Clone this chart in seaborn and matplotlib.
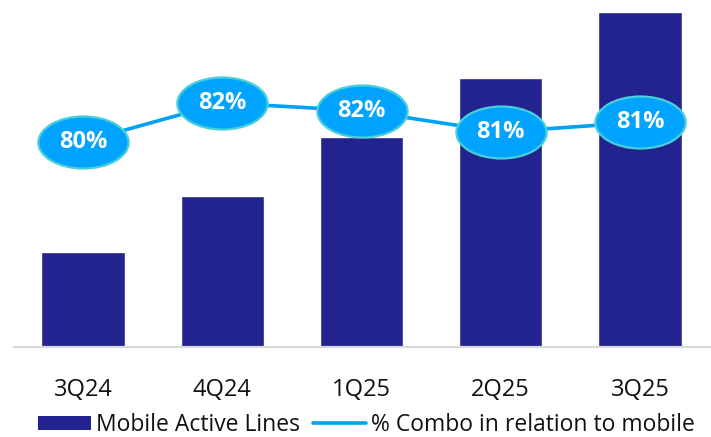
import numpy as np
import pandas as pd
import matplotlib
matplotlib.use("Agg")
import matplotlib.pyplot as plt
from matplotlib.markers import MarkerStyle
from matplotlib.transforms import Affine2D
from matplotlib.patches import Patch
from matplotlib.lines import Line2D
import seaborn as sns

# Quarterly figures
quarters = ["3Q24", "4Q24", "1Q25", "2Q25", "3Q25"]
mobile_active_lines = [94.7, 151.0, 209.7, 269.3, 334.7]
combo_share_pct = [80.2, 82.2, 81.8, 80.7, 81.2]

series_labels = ["Mobile Active Lines", "% Combo in relation to mobile"]

NAVY = "#23238F"
LINE_BLUE = "#00A2F5"
BUBBLE_FILL = "#00A3FF"
BUBBLE_EDGE = "#48CFD8"
AXIS_GREY = "#D9D9D9"

sns.set_theme(style="white")
plt.rcParams["font.family"] = ["Open Sans", "DejaVu Sans"]

W, H = 711, 437
fig = plt.figure(figsize=(W / 100, H / 100), dpi=100)
ax = fig.add_axes([13.5 / W, (H - 347) / H, 696 / W, 347 / H])

df = pd.DataFrame({"quarter": quarters, "lines": mobile_active_lines})
sns.barplot(data=df, x="quarter", y="lines", order=quarters, color=NAVY,
            saturation=1, width=0.6, ax=ax)
ax.set_xlim(-0.5, len(quarters) - 0.5)
ax.set_ylim(0, 347)
ax.set_xlabel("")
ax.set_ylabel("")
ax.set_yticks([])
ax.tick_params(axis="x", length=0, pad=22, labelsize=17, labelcolor="#111111")
for side in ("left", "right", "top"):
    ax.spines[side].set_visible(False)
ax.spines["bottom"].set_color(AXIS_GREY)
ax.spines["bottom"].set_linewidth(1.6)

# Combo share on a secondary axis
ax2 = ax.twinx()
xs = np.arange(len(quarters))
sns.lineplot(x=xs, y=combo_share_pct, ax=ax2, color=LINE_BLUE, linewidth=2.6,
             legend=False)
bubble = MarkerStyle("o", transform=Affine2D().scale(1.0, 53 / 92))
ax2.plot(xs, combo_share_pct, linestyle="none", marker=bubble, markersize=65,
         markerfacecolor=BUBBLE_FILL, markeredgecolor=BUBBLE_EDGE,
         markeredgewidth=1.6)
for x, v in zip(xs, combo_share_pct):
    ax2.text(x, v, f"{v:.0f}%", ha="center", va="center", color="white",
             fontsize=17, fontweight="bold")
ax2.set_ylim(69.59, 87.52)
ax2.set_yticks([])
ax2.set_ylabel("")
for side in ax2.spines.values():
    side.set_visible(False)

handles = [Patch(facecolor=NAVY, edgecolor="none"),
           Line2D([], [], color=LINE_BLUE, linewidth=2.6)]
fig.legend(handles, series_labels, loc="lower center",
           bbox_to_anchor=(366.5 / W, 0.0), ncol=2, frameon=False,
           fontsize=16.5, handlelength=2.3, handleheight=0.6,
           handletextpad=0.25, columnspacing=0.55, borderaxespad=0.0,
           borderpad=0.0, labelcolor="#111111")

fig.savefig("out.png", dpi=100)
